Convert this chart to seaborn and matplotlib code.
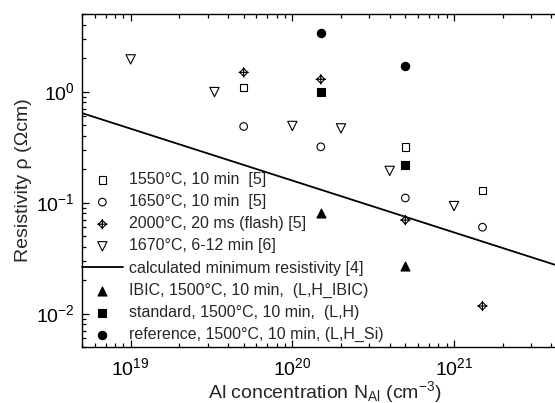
import numpy as np
import pandas as pd
import matplotlib
matplotlib.use('Agg')
import matplotlib.pyplot as plt
from matplotlib.path import Path
import seaborn as sns

# ---- data ----
x_1550 = [5e19, 5e20, 1.5e21]
y_1550 = [1.09, 0.318, 0.129]
x_1650 = [5e19, 1.5e20, 5e20, 1.5e21]
y_1650 = [0.485, 0.318, 0.11, 0.06]
x_2000 = [5e19, 1.5e20, 5e20, 1.5e21]
y_2000 = [1.49, 1.29, 0.0695, 0.0117]
x_1670 = [1e19, 3.3e19, 1e20, 2e20, 4e20, 1e21]
y_1670 = [1.95, 0.99, 0.49, 0.466, 0.193, 0.093]
x_calc = [5e18, 5e21]
y_calc = [0.64, 0.0254]
x_ibic = [1.5e20, 5e20]
y_ibic = [0.08, 0.027]
x_std = [1.5e20, 5e20]
y_std = [1.0, 0.218]
x_ref = [1.5e20, 5e20]
y_ref = [3.4, 1.69]

labels = [
    "1550°C, 10 min  [5]",
    "1650°C, 10 min  [5]",
    "2000°C, 20 ms (flash) [5]",
    "1670°C, 6-12 min [6]",
    "calculated minimum resistivity [4]",
    "IBIC, 1500°C, 10 min,  (L,H_IBIC)",
    "standard, 1500°C, 10 min,  (L,H)",
    "reference, 1500°C, 10 min, (L,H_Si)",
]

sns.set_style("ticks")
plt.rcParams['font.family'] = ['Liberation Sans', 'DejaVu Sans']
plt.rcParams['mathtext.fontset'] = 'custom'
plt.rcParams['mathtext.rm'] = 'Liberation Sans'
plt.rcParams['mathtext.it'] = 'Liberation Sans:italic'
plt.rcParams['mathtext.bf'] = 'Liberation Sans:bold'
plt.rcParams['mathtext.default'] = 'regular'

fig = plt.figure(figsize=(5.55, 4.03), dpi=100)
ax = fig.add_axes([82 / 555, 56 / 403, (567 - 82) / 555, (347 - 14) / 403])

# crossed diamond marker
r = 1.0
e = 1.3
verts = [(0, r), (r, 0), (0, -r), (-r, 0), (0, r),
         (-e, 0), (e, 0), (0, -e), (0, e)]
codes = [Path.MOVETO, Path.LINETO, Path.LINETO, Path.LINETO, Path.CLOSEPOLY,
         Path.MOVETO, Path.LINETO, Path.MOVETO, Path.LINETO]
cross_diamond = Path(verts, codes)

k = dict(ax=ax, linewidth=0.8, zorder=3)
sns.scatterplot(x=x_1550, y=y_1550, marker='s', s=30, facecolor='none', edgecolor='black', label=labels[0], **k)
sns.scatterplot(x=x_1650, y=y_1650, marker='o', s=30, facecolor='none', edgecolor='black', label=labels[1], **k)
sns.scatterplot(x=x_2000, y=y_2000, marker=cross_diamond, s=55, facecolor='none', edgecolor='black', label=labels[2], **k)
sns.scatterplot(x=x_1670, y=y_1670, marker='v', s=45, facecolor='none', edgecolor='black', label=labels[3], **k)
sns.lineplot(x=x_calc, y=y_calc, color='black', linewidth=1.3, label=labels[4], ax=ax)
sns.scatterplot(x=x_ibic, y=y_ibic, marker='^', s=42, color='black', edgecolor='black', label=labels[5], **k)
sns.scatterplot(x=x_std, y=y_std, marker='s', s=30, color='black', edgecolor='black', label=labels[6], **k)
sns.scatterplot(x=x_ref, y=y_ref, marker='o', s=36, color='black', edgecolor='black', label=labels[7], **k)

ax.set_xscale('log')
ax.set_yscale('log')
ax.set_xlim(5e18, 5e21)
ax.set_ylim(0.005, 5)

ax.tick_params(which='both', direction='in', top=True, right=True, width=0.9, colors='black')
ax.tick_params(which='major', length=5, labelsize=14)
ax.tick_params(axis='x', which='major', pad=7)
ax.tick_params(axis='y', which='major', pad=5)
ax.tick_params(which='minor', length=3)
for s in ax.spines.values():
    s.set_linewidth(1.0)
    s.set_color('black')

ax.set_xlabel("Al concentration N$_{Al}$ (cm$^{-3}$)", fontsize=14, labelpad=0)
ax.set_ylabel("Resistivity ρ (Ωcm)", fontsize=14, labelpad=3)

ax.legend(loc='upper left', bbox_to_anchor=(0, 0.525), frameon=False,
          borderpad=0, borderaxespad=0, handlelength=2.55, handletextpad=0.4,
          labelspacing=0.445, fontsize=11.5)

fig.savefig('out.png', dpi=100)
